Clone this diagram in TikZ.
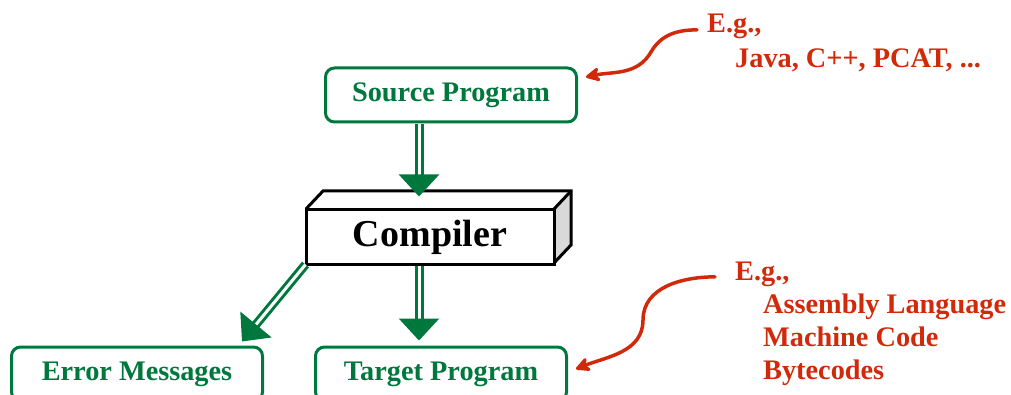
\documentclass[tikz,border=0pt]{standalone}
\usepackage{fontspec}
\setmainfont{Liberation Serif}
\usepackage{xcolor}
\usetikzlibrary{arrows.meta}
\usetikzlibrary{calc}

\definecolor{boxgreen}{HTML}{00773C}
\definecolor{notered}{HTML}{D02A0B}
\definecolor{sidegray}{HTML}{D9D9D9}

\begin{document}
\begin{tikzpicture}[x=1pt,y=-1pt,
    prog/.style={draw=boxgreen, line width=3pt, rounded corners=9pt, text=boxgreen,
      font=\fontsize{28.3}{33}\selectfont\bfseries, minimum width=251pt, minimum height=54pt, inner sep=0pt},
    flow/.style={draw=boxgreen, double=white, double distance=3pt, line width=3pt,
      -{Triangle[width=40pt,length=22pt,fill=boxgreen]}},
    note/.style={text=notered, font=\fontsize{28.3}{33}\selectfont\bfseries, inner sep=0pt, anchor=base west},
    hint/.style={draw=notered, line width=3.5pt, line cap=round,
      -{Stealth[length=18pt,width=18pt,inset=6pt,round]}}]
        \useasboundingbox (0,0) rectangle (1011,395);

        % boxes
        \node[prog] (src) at (451,95) {Source Program};
        \node[prog] (err) at (137,374) {Error Messages};
        \node[prog] (tgt) at (441,374) {Target Program};

        % the compiler block
        \fill[sidegray] (554,209) -- (571,191) -- (571,245) -- (554,263) -- cycle;
        \draw[line width=3pt, line join=miter] (306,209) -- (323,191) -- (571,191) -- (571,245) -- (554,263);
        \draw[line width=3pt] (554,209) -- (571,191);
        \node[draw, fill=white, line width=3pt, minimum width=248pt, minimum height=54pt, inner sep=0pt,
          font=\fontsize{38}{40}\selectfont\bfseries] (comp) at (430,237) {Compiler};

        % flow of the program
        \coordinate (col) at (419,0);
        \draw[flow, shorten <=1pt, shorten >=12pt] (src.south -| col) -- (comp.north -| col);
        \draw[flow, shorten >=5pt] (comp.south -| col) -- (tgt.north -| col);
        \draw[flow] ($(comp.south west)+(1,-1)$) -- ($(err.north east)+(-22,-4)$);

        % examples
        \node[note] (eg1) at (707,33) {E.g.,};
        \node[note] (lang) at (735,68) {Java, C++, PCAT, ...};
        \node[note] (eg2) at (735,280) {E.g.,};
        \node[note] (asm) at (763,313) {Assembly Language};
        \node[note] (mach) at (763,346) {Machine Code};
        \node[note] (byte) at (763,379) {Bytecodes};

        \draw[hint] ($(eg1.west)+(-10,3)$) to[out=180,in=60] (651,52) to[out=240,in=12] ($(src.east)+(8,-18)$);
        \draw[hint] ($(eg2.west)+(-20,3)$) to[out=180,in=90] (643,320) to[out=270,in=22] ($(tgt.east)+(8,-5)$);
\end{tikzpicture}
\end{document}
